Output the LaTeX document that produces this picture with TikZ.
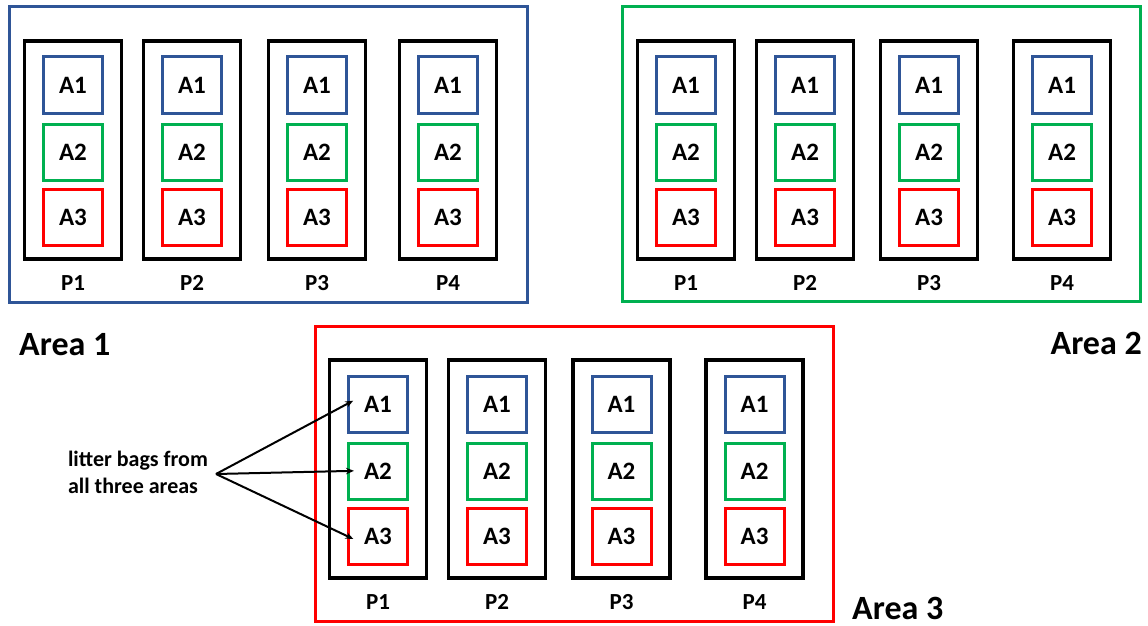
\documentclass[tikz,border=0pt]{standalone}
\usepackage{fontspec}
\setmainfont{Carlito}
\usetikzlibrary{arrows.meta,calc}
\definecolor{ablue}{HTML}{2F5597}
\definecolor{agreen}{HTML}{00B050}
\definecolor{ared}{HTML}{FF0000}
\tikzset{
  areaframe/.style={draw=#1, line width=3pt, minimum width=518pt, minimum height=295pt, inner sep=0pt},
  pbox/.style={draw=black, line width=3.5pt, minimum width=97pt, minimum height=218pt, inner sep=0pt},
  sq/.style={draw=#1, line width=3pt, minimum width=59pt, minimum height=56pt, inner sep=0pt,
    font=\bfseries\fontsize{25}{29}\selectfont},
  plabel/.style={font=\bfseries\fontsize{23}{27}\selectfont, inner sep=0pt},
  arealabel/.style={font=\bfseries\fontsize{34}{39}\selectfont, inner sep=0pt},
  note/.style={font=\bfseries\fontsize{22}{27}\selectfont, align=left, inner sep=0pt},
  pointer/.style={draw=black, line width=2pt, -{Stealth[length=8pt,width=6.5pt]}, shorten >=-7pt}
}
\newcommand{\pcolumn}[4]{%
  \node[pbox] (#1) at (#2,#3) {};
  \node[sq=ablue] (#1-a1) at (#2,#3-65) {A1};
  \node[sq=agreen] (#1-a2) at (#2,#3+2) {A2};
  \node[sq=ared] (#1-a3) at (#2,#3+67) {A3};
  \node[plabel] (#1-l) at (#2,#3+133) {P#4};
}
\begin{document}
\begin{tikzpicture}[x=1pt,y=-1pt]
\useasboundingbox (0,0) rectangle (1148,626);
% area frames
\node[areaframe=ablue] (area1) at (268,154.5) {};
\node[areaframe=agreen] (area2) at (881.5,154) {};
\node[areaframe=ared] (area3) at (574,474) {};
% area 1 columns
\pcolumn{ra-p1}{73}{150}{1}
\pcolumn{ra-p2}{192}{150}{2}
\pcolumn{ra-p3}{317}{150}{3}
\pcolumn{ra-p4}{448}{150}{4}
% area 2 columns
\pcolumn{rb-p1}{686}{150}{1}
\pcolumn{rb-p2}{805}{150}{2}
\pcolumn{rb-p3}{929}{150}{3}
\pcolumn{rb-p4}{1062}{150}{4}
% area 3 columns
\pcolumn{rc-p1}{378}{469}{1}
\pcolumn{rc-p2}{497}{469}{2}
\pcolumn{rc-p3}{621.5}{469}{3}
\pcolumn{rc-p4}{754.5}{469}{4}
% area labels
\node[arealabel, anchor=west] (lab1) at (19,345) {Area 1};
\node[arealabel, anchor=east] (lab2) at (1142,343) {Area 2};
\node[arealabel, anchor=west] (lab3) at (852,608) {Area 3};
% note and pointers
\node[note] (note) at (138,472) {litter bags from\\all three areas};
\coordinate (src) at (216,474);
\draw[pointer] (src) -- (rc-p1-a1.west);
\draw[pointer] (src) -- (rc-p1-a2.west);
\draw[pointer] (src) -- (rc-p1-a3.west);
\end{tikzpicture}
\end{document}
